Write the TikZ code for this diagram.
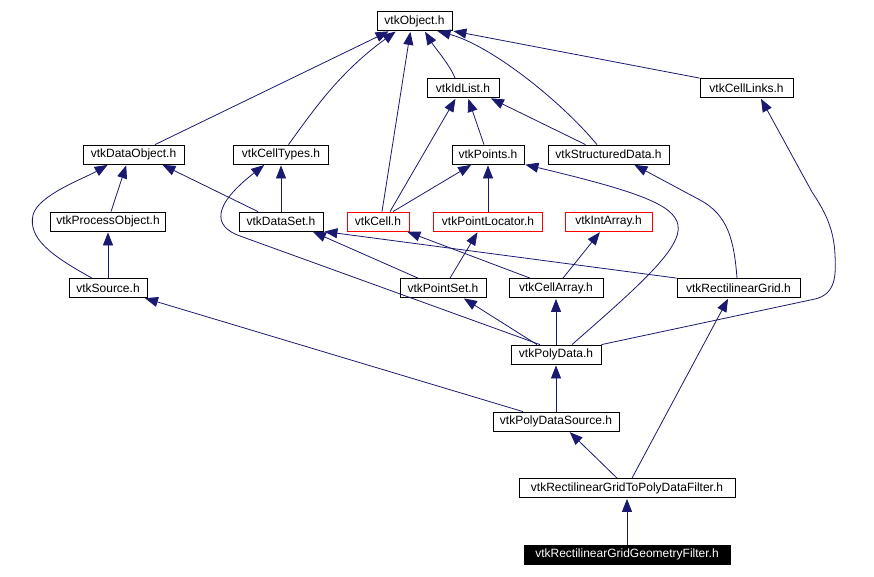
\documentclass[tikz,border=0pt]{standalone}
\usepackage{fontspec}
\setmainfont{Liberation Sans}
\usepackage{tikz}
\usetikzlibrary{arrows.meta}

\definecolor{edgeblue}{RGB}{25,25,112}

\tikzset{
	hdr/.style={draw=black, line width=0.8pt, fill=white, inner sep=0pt,
		minimum height=19pt, font=\fontsize{12}{14}\selectfont},
	undoc/.style={hdr, draw=red},
	self/.style={hdr, fill=black, text=white},
	inh/.style={draw=edgeblue, line width=0.8pt, shorten >=1pt,
		-{Triangle[length=13pt,width=10pt]}},
}

\begin{document}
\begin{tikzpicture}[x=1pt, y=-1pt]

		\useasboundingbox (0,0) rectangle (874,576);

		% Header boxes, row by row
		\node[hdr, minimum width=75] (obj) at (414.5,21) {vtkObject.h};

		\node[hdr, minimum width=72] (idl) at (463,88) {vtkIdList.h};
		\node[hdr, minimum width=93] (links) at (746.5,88) {vtkCellLinks.h};

		\node[hdr, minimum width=101] (dobj) at (133.5,154.5) {vtkDataObject.h};
		\node[hdr, minimum width=95] (ctypes) at (281,154.5) {vtkCellTypes.h};
		\node[hdr, minimum width=72] (pts) at (488,154.5) {vtkPoints.h};
		\node[hdr, minimum width=121] (sdata) at (608.5,154.5) {vtkStructuredData.h};

		\node[hdr, minimum width=115] (pobj) at (108,221.5) {vtkProcessObject.h};
		\node[hdr, minimum width=84] (dset) at (281,221.5) {vtkDataSet.h};
		\node[undoc, minimum width=62] (cell) at (378,221.5) {vtkCell.h};
		\node[undoc, minimum width=109] (ploc) at (488,221.5) {vtkPointLocator.h};
		\node[undoc, minimum width=87] (iarr) at (608.5,221.5) {vtkIntArray.h};

		\node[hdr, minimum width=78] (src) at (108,288) {vtkSource.h};
		\node[hdr, minimum width=86] (pset) at (443,288) {vtkPointSet.h};
		\node[hdr, minimum width=94] (carr) at (556,288) {vtkCellArray.h};
		\node[hdr, minimum width=123] (rgrid) at (738.5,288) {vtkRectilinearGrid.h};

		\node[hdr, minimum width=90] (pdata) at (556,354.5) {vtkPolyData.h};
		\node[hdr, minimum width=126] (pdsrc) at (556,421.5) {vtkPolyDataSource.h};
		\node[hdr, minimum width=216] (rg2pd) at (627,488) {vtkRectilinearGridToPolyDataFilter.h};
		\node[self, minimum width=206] (rggf) at (627,554.5) {vtkRectilinearGridGeometryFilter.h};

		% Edges into vtkObject.h
		\draw[inh] ([xshift=21.5]dobj.north) -- ([xshift=-25]obj.south);
		\draw[inh] ([xshift=7.5]ctypes.north) .. controls (315,108) and (340,72) .. ([xshift=-18]obj.south);
		\draw[inh] ([xshift=4]cell.north) -- ([xshift=-4]obj.south);
		\draw[inh] ([xshift=-8]idl.north) .. controls (450,65) and (435,48) .. ([xshift=10]obj.south);
		\draw[inh] ([xshift=-11.5]sdata.north) .. controls (560,100) and (490,45) .. ([xshift=22]obj.south);
		\draw[inh] (links.north west) -- (obj.south east);

		% Edges into vtkIdList.h and vtkPoints.h
		\draw[inh] ([xshift=12]cell.north) -- ([xshift=-7]idl.south);
		\draw[inh] ([xshift=-4]pts.north) -- ([xshift=5]idl.south);
		\draw[inh] ([xshift=-23]sdata.north) -- ([xshift=27]idl.south);
		\draw[inh] ([xshift=15]cell.north) -- ([xshift=-16]pts.south);
		\draw[inh] (ploc) -- (pts);
		\draw[inh] ([xshift=16]pdata.north) .. controls (640,285) and (682,248) .. (678,225)
			.. controls (674,205) and (640,192) .. (pts.south east);

		% Edges into vtkDataObject.h and vtkCellTypes.h
		\draw[inh] ([xshift=3]pobj.north) -- ([xshift=-7]dobj.south);
		\draw[inh] ([xshift=-16]src.north) .. controls (50,255) and (28,238) .. (33,215)
			.. controls (38,195) and (85,178) .. ([xshift=-25]dobj.south);
		\draw[inh] ([xshift=-23]dset.north) -- ([xshift=28]dobj.south);
		\draw[inh] (dset) -- (ctypes);
		\draw[inh] ([xshift=-16]pdata.north) -- (240,236) .. controls (212,226) and (213,205) .. ([xshift=-16]ctypes.south);

		% Edges into the third row
		\draw[inh] ([xshift=-25]pset.north) -- ([xshift=31]dset.south);
		\draw[inh] (rgrid.north west) -- (dset.south east);
		\draw[inh] ([xshift=-26]carr.north) -- ([xshift=-3]cell.south east);
		\draw[inh] ([xshift=7]pset.north) -- ([xshift=-10]ploc.south);
		\draw[inh] ([xshift=7]carr.north) -- ([xshift=-8]iarr.south);
		\draw[inh] (src) -- (pobj);

		% Edges into the fourth row and above
		\draw[inh] ([xshift=-19]pdata.north) -- ([xshift=20]pset.south);
		\draw[inh] (pdata) -- (carr);
		\draw[inh] (pdata.north east) -- (815,299) .. controls (836,294) and (836,275) .. (835,255)
			.. controls (834,228) and (824,210) .. (812,192) -- ([xshift=14]links.south);
		\draw[inh] ([xshift=-1.5]rgrid.north) .. controls (734,240) and (728,215) .. (700,200)
			-- ([xshift=25]sdata.south);

		% Bottom chain
		\draw[inh] (pdsrc) -- (pdata);
		\draw[inh] ([xshift=-33]pdsrc.north) -- ([xshift=36]src.south);
		\draw[inh] ([xshift=-10]rg2pd.north) -- ([xshift=13]pdsrc.south);
		\draw[inh] ([xshift=5]rg2pd.north) -- ([xshift=-10]rgrid.south);
		\draw[inh] (rggf) -- (rg2pd);

	\end{tikzpicture}
\end{document}
